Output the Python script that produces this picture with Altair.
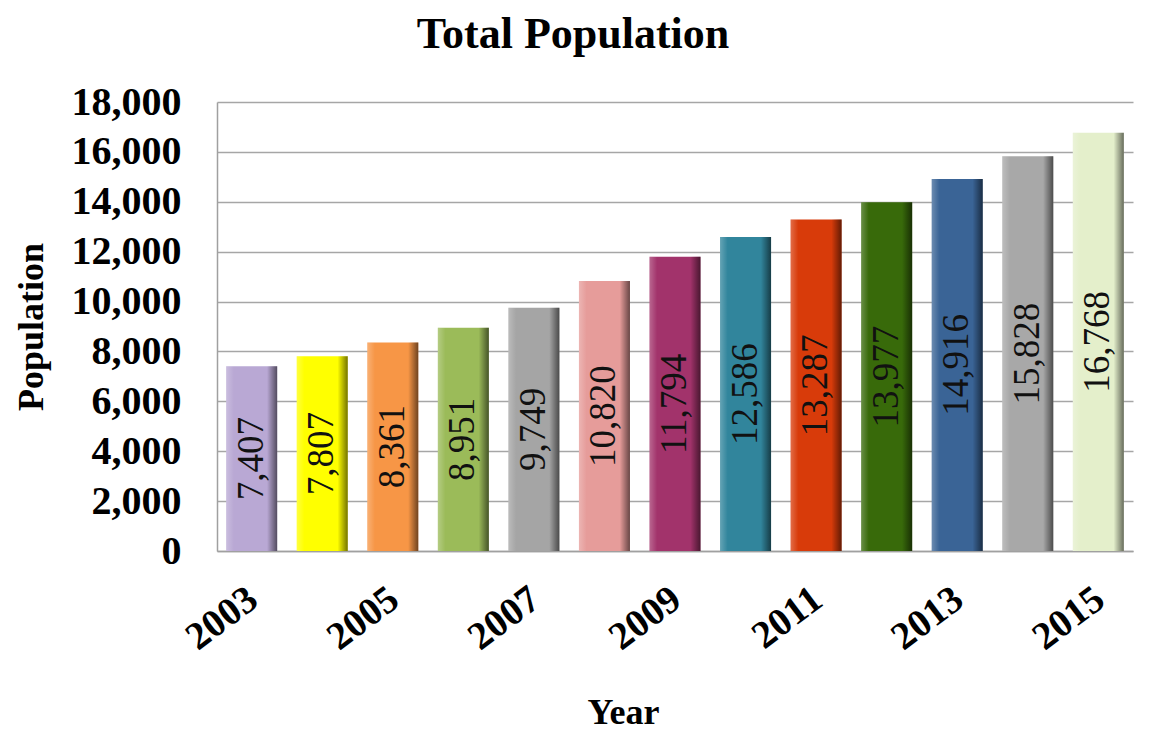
import altair as alt
import pandas as pd

years = ["2003", "2004", "2005", "2006", "2007", "2008", "2009",
         "2010", "2011", "2012", "2013", "2014", "2015"]
population = [7407, 7807, 8361, 8951, 9749, 10820, 11794,
              12586, 13287, 13977, 14916, 15828, 16768]
bar_colors = ["#b9a8d4", "#ffff00", "#f79646", "#9bbb59", "#a5a5a5", "#e69c9a",
              "#a2336b", "#31859c", "#d83b0a", "#386a0a", "#3a6496", "#a8a8a8", "#e4efcb"]
x_tick_labels = ["2003", "2005", "2007", "2009", "2011", "2013", "2015"]
y_ticks = [0, 2000, 4000, 6000, 8000, 10000, 12000, 14000, 16000, 18000]

df = pd.DataFrame({"Year": years, "Population": population})

FONT = "Liberation Serif"

x_enc = alt.X(
    "Year:N",
    sort=years,
    scale=alt.Scale(paddingInner=0.277, paddingOuter=0.13),
    axis=alt.Axis(
        values=x_tick_labels,
        labelAngle=-37,
        labelFont=FONT,
        labelFontSize=39,
        labelFontWeight="bold",
        labelColor="#000000",
        labelPadding=28,
        labelOffset=-10,
        ticks=False,
        domainColor="#a0a0a0",
        domainWidth=1.5,
        grid=False,
        title="Year",
        titleFont=FONT,
        titleFontSize=36,
        titleFontWeight="bold",
        titleColor="#000000",
        titlePadding=38,
        titleX=406,
        titleAlign="center",
    ),
)

y_enc = alt.Y(
    "Population:Q",
    scale=alt.Scale(domain=[0, 18000], nice=False),
    axis=alt.Axis(
        values=y_ticks,
        format=",.0f",
        labelFont=FONT,
        labelFontSize=40,
        labelFontWeight="bold",
        labelColor="#000000",
        labelPadding=36,
        ticks=False,
        domainColor="#a0a0a0",
        domainWidth=1.5,
        gridColor="#a6a6a6",
        gridWidth=1.5,
        title="Population",
        titleFont=FONT,
        titleFontSize=36,
        titleFontWeight="bold",
        titleColor="#000000",
        titlePadding=21,
    ),
)

base = alt.Chart(df).encode(x=x_enc)

bars = base.mark_bar().encode(
    y=y_enc,
    color=alt.Color("Year:N", sort=years,
                    scale=alt.Scale(domain=years, range=bar_colors), legend=None),
)

shade = base.mark_bar(
    color=alt.Gradient(
        gradient="linear",
        x1=0, x2=1, y1=0, y2=0,
        stops=[
            alt.GradientStop(color="rgba(255,255,255,0.25)", offset=0),
            alt.GradientStop(color="rgba(255,255,255,0)", offset=0.15),
            alt.GradientStop(color="rgba(0,0,0,0)", offset=0.8),
            alt.GradientStop(color="rgba(0,0,0,0.55)", offset=1),
        ],
    )
).encode(y="Population:Q")

labels = base.transform_calculate(
    mid="datum.Population / 2"
).mark_text(
    angle=270, align="center", baseline="middle",
    font=FONT, fontSize=37, color="#111111",
).encode(
    y="mid:Q",
    text=alt.Text("Population:Q", format=",.0f"),
)

chart = alt.layer(bars, shade, labels).properties(
    width=916,
    height=449,
    title=alt.TitleParams(
        "Total Population",
        font=FONT,
        fontSize=44,
        fontWeight="bold",
        color="#000000",
        anchor="middle",
        frame="bounds",
        offset=25,
    ),
).configure_view(stroke=None)

chart.save("out.html", embed_options={"renderer": "svg", "actions": False})
